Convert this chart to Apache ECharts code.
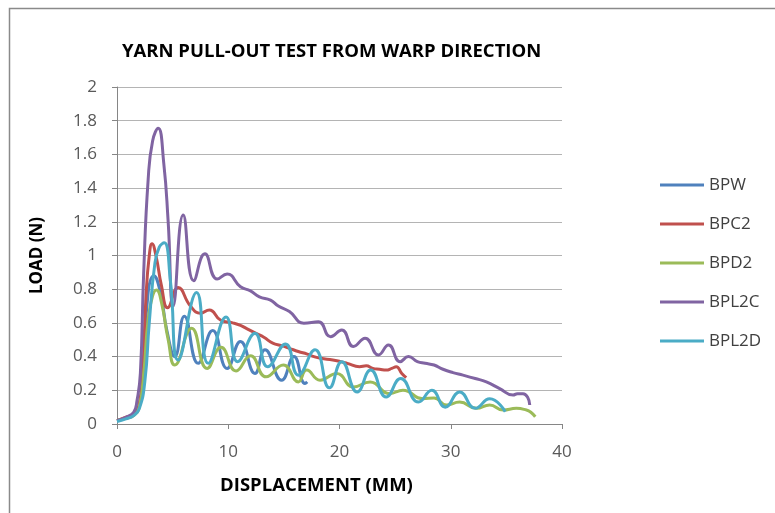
<!DOCTYPE html>
<html>
<head>
<meta charset="utf-8">
<script src="https://cdn.jsdelivr.net/npm/echarts@6/dist/echarts.min.js"></script>
<style>
  html, body { margin: 0; padding: 0; background: #fff; }
  #chart { width: 775px; height: 513px; }
</style>
</head>
<body>
<div id="chart"></div>
<script>
const seriesNames = ['BPW', 'BPC2', 'BPD2', 'BPL2C', 'BPL2D'];
const colors = ['#4F81BD', '#C0504D', '#9BBB59', '#8064A2', '#4BACC6'];

// BPW
const bpwX = [0, 0.8, 1.5, 2.0, 2.4, 2.8, 3.3, 3.9, 4.5, 5.2, 6.05, 7.3, 8.6, 9.9, 11.1, 12.4, 13.3, 14.8, 15.9, 16.9, 17.1];
const bpwY = [0.02, 0.035, 0.055, 0.11, 0.35, 0.78, 0.88, 0.78, 0.55, 0.40, 0.64, 0.36, 0.555, 0.33, 0.49, 0.30, 0.44, 0.26, 0.40, 0.24, 0.25];

// BPC2
const bpc2X = [0, 0.8, 1.5, 2.0, 2.3, 2.6, 2.9, 3.15, 3.5, 4.0, 4.55, 5.5, 6.6, 7.5, 8.3, 9.3, 10.4, 11.1, 11.7, 12.5, 13.2, 14.0, 14.8, 15.5, 16.3, 17.1, 17.7, 18.3, 19.4, 20.1, 20.7, 21.8, 22.4, 23.0, 23.6, 24.2, 24.7, 25.1, 25.6, 26.0];
const bpc2Y = [0.02, 0.04, 0.06, 0.12, 0.3, 0.75, 1.0, 1.07, 1.0, 0.82, 0.69, 0.81, 0.70, 0.657, 0.677, 0.617, 0.60, 0.585, 0.565, 0.538, 0.515, 0.48, 0.465, 0.449, 0.43, 0.415, 0.40, 0.39, 0.38, 0.37, 0.36, 0.34, 0.345, 0.33, 0.325, 0.32, 0.33, 0.34, 0.30, 0.275];

// BPD2
const bpd2X = [0, 0.8, 1.5, 2.0, 2.4, 2.8, 3.2, 3.55, 4.0, 4.6, 5.2, 6.7, 8.1, 9.35, 10.7, 12.0, 13.4, 14.95, 16.3, 17.05, 18.25, 19.75, 21.25, 22.75, 24.5, 25.7, 27.5, 28.5, 29.6, 30.8, 32.3, 33.5, 34.7, 35.9, 36.8, 37.2, 37.6];
const bpd2Y = [0.02, 0.035, 0.05, 0.1, 0.3, 0.62, 0.76, 0.795, 0.72, 0.5, 0.35, 0.568, 0.33, 0.455, 0.315, 0.405, 0.28, 0.35, 0.25, 0.32, 0.26, 0.30, 0.22, 0.25, 0.18, 0.20, 0.15, 0.155, 0.113, 0.13, 0.093, 0.113, 0.083, 0.093, 0.083, 0.07, 0.043];

// BPL2C
const bpl2cX = [0, 0.8, 1.5, 1.8, 2.1, 2.4, 2.8, 3.2, 3.7, 4.2, 4.6, 5.05, 5.95, 6.9, 7.9, 9.0, 9.9, 11.1, 12.0, 12.8, 13.8, 14.5, 15.5, 16.8, 18.1, 19.2, 20.2, 21.25, 22.3, 23.5, 24.4, 25.45, 26.2, 27.0, 27.7, 28.5, 29.3, 30.2, 31.1, 32.2, 33.2, 34.4, 35.6, 36.0, 36.5, 36.9, 37.1];
const bpl2cY = [0.02, 0.04, 0.07, 0.14, 0.3, 0.9, 1.45, 1.68, 1.755, 1.55, 1.2, 0.7, 1.24, 0.85, 1.01, 0.86, 0.89, 0.815, 0.79, 0.755, 0.735, 0.70, 0.667, 0.598, 0.607, 0.518, 0.558, 0.46, 0.509, 0.41, 0.469, 0.37, 0.40, 0.37, 0.36, 0.35, 0.325, 0.305, 0.29, 0.27, 0.25, 0.21, 0.172, 0.18, 0.18, 0.16, 0.113];

// BPL2D
const bpl2dX = [0, 0.8, 1.5, 2.0, 2.5, 2.9, 3.4, 3.8, 4.25, 4.8, 5.5, 7.15, 8.2, 9.8, 10.85, 12.4, 13.55, 15.15, 16.3, 17.8, 19.1, 20.2, 21.6, 22.8, 24.2, 25.5, 27.1, 28.3, 29.5, 30.8, 32.2, 33.5, 34.9];
const bpl2dY = [0.015, 0.03, 0.05, 0.09, 0.25, 0.6, 0.95, 1.05, 1.075, 0.85, 0.38, 0.78, 0.36, 0.635, 0.37, 0.538, 0.34, 0.475, 0.29, 0.44, 0.215, 0.37, 0.19, 0.32, 0.16, 0.27, 0.13, 0.20, 0.10, 0.19, 0.093, 0.15, 0.073];

const xTicks = [0, 10, 20, 30, 40];
const yTicks = [0, 0.2, 0.4, 0.6, 0.8, 1, 1.2, 1.4, 1.6, 1.8, 2];

const allX = [bpwX, bpc2X, bpd2X, bpl2cX, bpl2dX];
const allY = [bpwY, bpc2Y, bpd2Y, bpl2cY, bpl2dY];

const font = '"Open Sans", Lato, sans-serif';
const gray = '#868686';

var myChart = echarts.init(document.getElementById('chart'));
myChart.setOption({
  animation: false,
  backgroundColor: '#fff',
  color: colors,
  title: {
    text: 'YARN PULL-OUT TEST FROM WARP DIRECTION',
    left: 117,
    top: 37,
    textStyle: { fontFamily: font, fontSize: 18.5, fontWeight: 'bold', color: '#000' }
  },
  grid: { left: 117, right: 213, top: 87, bottom: 89, outerBoundsMode: 'none' },
  legend: {
    orient: 'vertical',
    left: 660,
    top: 176,
    padding: 0,
    icon: 'rect',
    itemWidth: 44,
    itemHeight: 3,
    itemGap: 21,
    textStyle: { fontFamily: font, fontSize: 17, color: '#404040', lineHeight: 18 },
    data: seriesNames
  },
  xAxis: {
    type: 'value',
    min: xTicks[0],
    max: xTicks[xTicks.length - 1],
    interval: 10,
    name: 'DISPLACEMENT (MM)',
    nameLocation: 'middle',
    nameGap: 52,
    nameTextStyle: { fontFamily: font, fontSize: 18.5, fontWeight: 'bold', color: '#000', padding: [0, 46, 0, 0] },
    axisLine: { show: true, lineStyle: { color: gray, width: 1 } },
    axisTick: { show: true, inside: false, length: 5, lineStyle: { color: gray } },
    axisLabel: { fontFamily: font, fontSize: 17, color: '#595959', margin: 20 },
    splitLine: { show: false }
  },
  yAxis: {
    type: 'value',
    min: yTicks[0],
    max: yTicks[yTicks.length - 1],
    interval: 0.2,
    name: 'LOAD (N)',
    nameLocation: 'middle',
    nameGap: 71,
    nameTextStyle: { fontFamily: font, fontSize: 17, fontWeight: 'bold', color: '#000' },
    axisLine: { show: true, lineStyle: { color: gray, width: 1 } },
    axisTick: { show: true, inside: false, length: 5, lineStyle: { color: gray } },
    axisLabel: { fontFamily: font, fontSize: 17, color: '#595959', margin: 20 },
    splitLine: { show: true, lineStyle: { color: '#b4b4b4', width: 1 } }
  },
  graphic: [{
    type: 'rect',
    silent: true,
    shape: { x: 9.5, y: 8.5, width: 800, height: 600 },
    style: { fill: 'none', stroke: '#8a8a8a', lineWidth: 1.5 }
  }],
  series: seriesNames.map((name, i) => ({
    name: name,
    type: 'line',
    smooth: 0.5,
    showSymbol: false,
    symbol: 'none',
    lineStyle: { width: 3, color: colors[i] },
    itemStyle: { color: colors[i] },
    data: allX[i].map((x, j) => [x, allY[i][j]])
  }))
});
</script>
</body>
</html>
